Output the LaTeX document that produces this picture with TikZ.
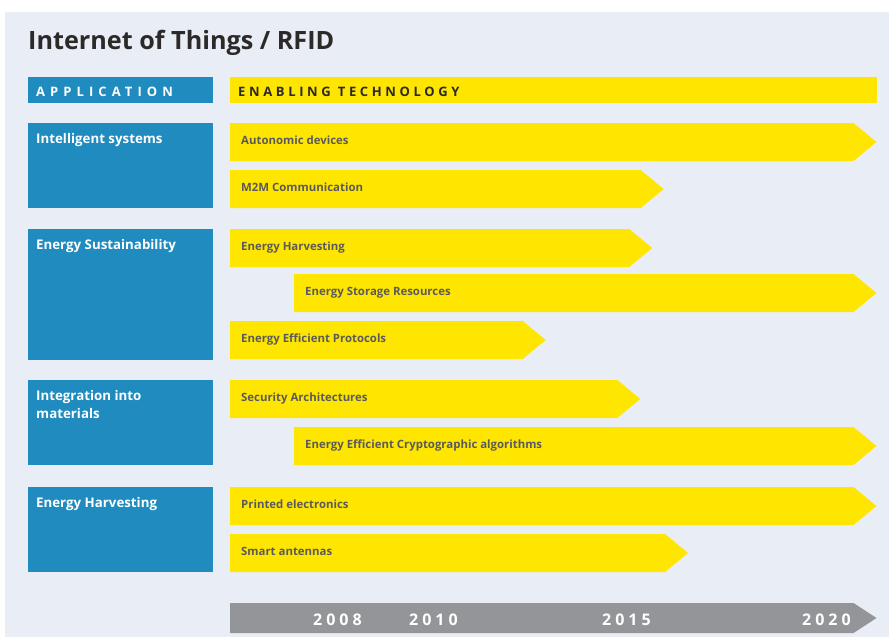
\documentclass[tikz,border=0pt]{standalone}
\usepackage{fontspec}
\setmainfont{Open Sans}
\definecolor{panelbg}{HTML}{E9EEF6}
\definecolor{appblue}{HTML}{1F8BBE}
\definecolor{techyellow}{HTML}{FFE600}
\definecolor{bartext}{HTML}{5A5A5C}
\definecolor{darktext}{HTML}{2B2A29}
\definecolor{timegrey}{HTML}{939598}
\tikzset{
  appbox/.style={fill=appblue},
  apptext/.style={anchor=base west, inner sep=0pt, text=white, font=\fontsize{13.3}{18.5}\selectfont\bfseries, align=left},
  bartxt/.style={anchor=base west, inner sep=0pt, text=bartext, font=\fontsize{11.4}{14}\selectfont\bfseries},
  headtxt/.style={anchor=base west, inner sep=0pt, font=\fontsize{13}{15}\selectfont\bfseries\addfontfeatures{LetterSpace=28}},
  yeartxt/.style={anchor=base west, inner sep=0pt, text=white, font=\fontsize{16}{18}\selectfont\bfseries\addfontfeatures{LetterSpace=25}},
}
% #1 name, #2 left x, #3 body end x, #4 top y, #5 bottom y, #6 text, #7 colour
\newcommand\techbar[7]{%
  \fill[#7] (#2,#4) -- (#3,#4) -- ({#3+23},{(#4+#5)/2}) -- (#3,#5) -- (#2,#5) -- cycle;
}
\begin{document}
\begin{tikzpicture}[x=1pt,y=-1pt]
\useasboundingbox (0,0) rectangle (891,637);
\fill[white] (0,0) rectangle (891,637);
\fill[panelbg] (5,12) rectangle (889,637);
% title
\node[anchor=base west, inner sep=0pt, text=darktext, font=\fontsize{25.2}{30}\selectfont\bfseries] (title) at (28,49.5) {Internet of Things / RFID};
% headers
\fill[appblue] (28,77) rectangle (213,103);
\node[headtxt, text=white, font=\fontsize{13}{15}\selectfont\bfseries\addfontfeatures{LetterSpace=39}] (apphead) at (36,96) {APPLICATION};
\fill[techyellow] (230,77) rectangle (877,103);
\node[headtxt, text=darktext] (techhead) at (238,96) {ENABLING TECHNOLOGY};
% application boxes
\fill[appblue] (28,123) rectangle (213,208);
\node[apptext] (a1) at (36,143) {Intelligent systems};
\fill[appblue] (28,229) rectangle (213,360);
\node[apptext] (a2) at (36,249) {Energy Sustainability};
\fill[appblue] (28,380) rectangle (213,465);
\node[apptext] (a3) at (36,418.5) {Integration into\\materials};
\fill[appblue] (28,487) rectangle (213,572);
\node[apptext] (a4) at (36,507) {Energy Harvesting};
% technology bars
\techbar{b1}{230}{853.5}{123}{161}{}{techyellow}
\node[bartxt] (t1) at (241,144) {Autonomic devices};
\techbar{b2}{230}{640.7}{170}{208}{}{techyellow}
\node[bartxt] (t2) at (241,191) {M2M Communication};
\techbar{b3}{230}{629.3}{229}{267}{}{techyellow}
\node[bartxt] (t3) at (241,250) {Energy Harvesting};
\techbar{b4}{294}{853.5}{274}{312}{}{techyellow}
\node[bartxt] (t4) at (305,295) {Energy Storage Resources};
\techbar{b5}{230}{522.7}{321}{359}{}{techyellow}
\node[bartxt] (t5) at (241,342) {Energy Efficient Protocols};
\techbar{b6}{230}{617.3}{380}{418}{}{techyellow}
\node[bartxt] (t6) at (241,401) {Security Architectures};
\techbar{b7}{294}{853.5}{427}{465}{}{techyellow}
\node[bartxt] (t7) at (305,448) {Energy Efficient Cryptographic algorithms};
\techbar{b8}{230}{853.5}{487}{525}{}{techyellow}
\node[bartxt] (t8) at (241,508) {Printed electronics};
\techbar{b9}{230}{665}{534}{572}{}{techyellow}
\node[bartxt] (t9) at (241,555) {Smart antennas};
% timeline
\techbar{tl}{230}{853.5}{603}{633}{}{timegrey}
\node[yeartxt] (y1) at (313,625) {2008};
\node[yeartxt] (y2) at (409,625) {2010};
\node[yeartxt] (y3) at (602,625) {2015};
\node[yeartxt] (y4) at (802,625) {2020};
\end{tikzpicture}
\end{document}
